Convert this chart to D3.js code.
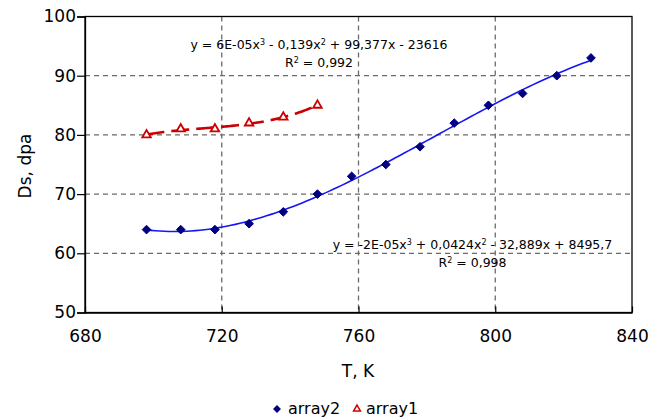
<!DOCTYPE html>
<html>
<head>
<meta charset="utf-8">
<script src="https://cdn.jsdelivr.net/npm/d3@7"></script>
<style>
  html, body { margin: 0; padding: 0; background: #fff; }
  svg { display: block; font-family: "DejaVu Sans", sans-serif; }
</style>
</head>
<body>
<svg id="chart" width="662" height="420"></svg>
<script>
// Temperature (K) and damage (dpa) measurements
const tempArray2 = [698, 708, 718, 728, 738, 748, 758, 768, 778, 788, 798, 808, 818, 828];
const dsArray2   = [64, 64, 64, 65, 67, 70, 73, 75, 78, 82, 85, 87, 90, 93];
const tempArray1 = [698, 708, 718, 728, 738, 748];
const dsArray1   = [80, 81, 81, 82, 83, 85];

const xTicks = [680, 720, 760, 800, 840];
const yTicks = [50, 60, 70, 80, 90, 100];

// Trendline equation labels: [text, isSuperscript]
const eqArray1 = [["y = 6E-05x", false], ["3", true], [" - 0,139x", false], ["2", true], [" + 99,377x - 23616", false]];
const r2Array1 = [["R", false], ["2", true], [" = 0,992", false]];
const eqArray2 = [["y = -2E-05x", false], ["3", true], [" + 0,0424x", false], ["2", true], [" - 32,889x + 8495,7", false]];
const r2Array2 = [["R", false], ["2", true], [" = 0,998", false]];

const seriesNames = ["array2", "array1"];
const xTitle = "T, K";
const yTitle = "Ds, dpa";

const svg = d3.select("#chart");
const x = d3.scaleLinear().domain([680, 840]).range([85, 632]);
const y = d3.scaleLinear().domain([50, 100]).range([312.5, 16.5]);

const blue = "#1515f5", navy = "#000080", red = "#cc0000", grid = "#6a6a6a";

// Least-squares cubic fit (x centred for numerical stability)
function cubicFit(xs, ys) {
  const c = d3.mean(xs);
  const n = 4;
  const A = Array.from({length: n}, () => new Array(n + 1).fill(0));
  xs.forEach((xv, k) => {
    const t = xv - c;
    const p = [1, t, t * t, t * t * t];
    for (let i = 0; i < n; i++) {
      for (let j = 0; j < n; j++) A[i][j] += p[i] * p[j];
      A[i][n] += p[i] * ys[k];
    }
  });
  for (let i = 0; i < n; i++) {
    let m = i;
    for (let r = i + 1; r < n; r++) if (Math.abs(A[r][i]) > Math.abs(A[m][i])) m = r;
    [A[i], A[m]] = [A[m], A[i]];
    for (let r = 0; r < n; r++) {
      if (r === i) continue;
      const f = A[r][i] / A[i][i];
      for (let j = i; j <= n; j++) A[r][j] -= f * A[i][j];
    }
  }
  const coef = A.map((row, i) => row[n] / row[i]);
  return xv => { const t = xv - c; return coef[0] + coef[1] * t + coef[2] * t * t + coef[3] * t * t * t; };
}

function curvePoints(xs, ys) {
  const f = cubicFit(xs, ys);
  const lo = d3.min(xs), hi = d3.max(xs);
  return d3.range(0, 101).map(i => { const xv = lo + (hi - lo) * i / 100; return [xv, f(xv)]; });
}

// Gridlines
svg.append("g").selectAll("line").data(yTicks.slice(1, -1)).join("line")
  .attr("x1", x(680)).attr("x2", x(840))
  .attr("y1", d => y(d)).attr("y2", d => y(d))
  .attr("stroke", grid).attr("stroke-width", 1.3).attr("stroke-dasharray", "5,4");
svg.append("g").selectAll("line").data(xTicks.slice(1, -1)).join("line")
  .attr("x1", d => x(d)).attr("x2", d => x(d))
  .attr("y1", y(100)).attr("y2", y(50))
  .attr("stroke", grid).attr("stroke-width", 1.3).attr("stroke-dasharray", "5,4");

// Plot frame
svg.append("rect")
  .attr("x", x(680)).attr("y", y(100))
  .attr("width", x(840) - x(680)).attr("height", y(50) - y(100))
  .attr("fill", "none").attr("stroke", "#000").attr("stroke-width", 1.3);

const line = d3.line().x(d => x(d[0])).y(d => y(d[1]));

// Trendlines
svg.append("path").datum(curvePoints(tempArray2, dsArray2))
  .attr("d", line).attr("fill", "none").attr("stroke", blue).attr("stroke-width", 1.6);
svg.append("path").datum(curvePoints(tempArray1, dsArray1))
  .attr("d", line).attr("fill", "none").attr("stroke", red)
  .attr("stroke-width", 2.6).attr("stroke-dasharray", "18,7");

// Markers
const diamond = d3.symbol().type(d3.symbolDiamond2).size(48);
const triangle = d3.symbol().type(d3.symbolTriangle2).size(52);
svg.append("g").selectAll("path").data(tempArray2.map((t, i) => [t, dsArray2[i]])).join("path")
  .attr("transform", d => `translate(${x(d[0])},${y(d[1])})`)
  .attr("d", diamond).attr("fill", navy).attr("stroke", navy).attr("stroke-width", 1);
svg.append("g").selectAll("path").data(tempArray1.map((t, i) => [t, dsArray1[i]])).join("path")
  .attr("transform", d => `translate(${x(d[0])},${y(d[1])})`)
  .attr("d", triangle).attr("fill", "#fff").attr("stroke", red).attr("stroke-width", 1.8);

// Equation labels
function richText(parts, cx, by) {
  const t = svg.append("text").attr("x", cx).attr("y", by)
    .attr("text-anchor", "middle").attr("font-size", 12.5).attr("fill", "#000");
  parts.forEach(([s, sup]) => {
    const ts = t.append("tspan").text(s);
    if (sup) ts.attr("font-size", 8).attr("baseline-shift", "super");
  });
}
richText(eqArray1, 319, 49);
richText(r2Array1, 319, 67);
richText(eqArray2, 472.5, 249);
richText(r2Array2, 472.5, 267);

// Axes
const yAxis = d3.axisLeft(y).tickValues(yTicks).tickSize(8).tickPadding(1).tickFormat(d3.format("d"));
const gy = svg.append("g").attr("transform", `translate(${x(680)},0)`).call(yAxis);
const xAxis = d3.axisBottom(x).tickValues(xTicks).tickSizeInner(-6).tickSizeOuter(0).tickPadding(17).tickFormat(d3.format("d"));
const gx = svg.append("g").attr("transform", `translate(0,${y(50)})`).call(xAxis);
[gx, gy].forEach(g => {
  g.select(".domain").attr("stroke", "#000").attr("stroke-width", 1.3);
  g.selectAll(".tick line").attr("stroke", "#000").attr("stroke-width", 1.2);
  g.selectAll(".tick text").attr("font-size", 17).attr("font-family", "DejaVu Sans").attr("fill", "#000");
});

// Axis titles
svg.append("text").attr("x", 358).attr("y", 377).attr("text-anchor", "middle")
  .attr("font-size", 17).text(xTitle);
svg.append("text").attr("transform", "translate(31,166) rotate(-90)").attr("text-anchor", "middle")
  .attr("font-size", 17).text(yTitle);

// Legend
const lg = svg.append("g");
lg.append("path").attr("transform", "translate(277,409)")
  .attr("d", d3.symbol().type(d3.symbolDiamond2).size(40)).attr("fill", navy);
lg.append("text").attr("x", 288).attr("y", 414).attr("font-size", 16).text(seriesNames[0]);
lg.append("path").attr("transform", "translate(357,409)")
  .attr("d", d3.symbol().type(d3.symbolTriangle2).size(34)).attr("fill", "#fff")
  .attr("stroke", red).attr("stroke-width", 1.5);
lg.append("text").attr("x", 366).attr("y", 414).attr("font-size", 16).text(seriesNames[1]);
</script>
</body>
</html>
